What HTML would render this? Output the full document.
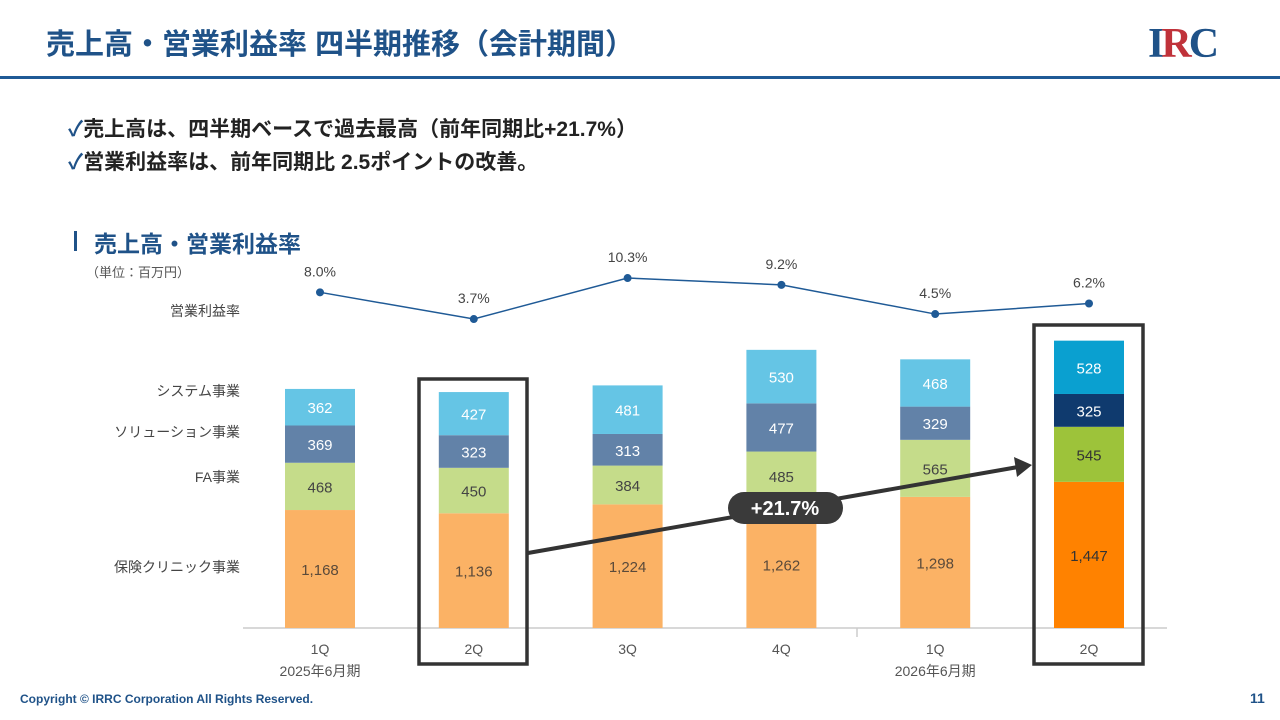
<!DOCTYPE html>
<html><head><meta charset="utf-8"><style>
body{margin:0;width:1280px;height:720px;background:#fff;overflow:hidden;font-family:"Liberation Sans","Noto Sans CJK JP",sans-serif;position:relative}
.abs{position:absolute}
</style></head><body>
<div class="abs" style="left:46px;top:21px;font-size:29px;font-weight:bold;color:#1f5288;white-space:nowrap">売上高・営業利益率 四半期推移（会計期間）</div>
<div class="abs" style="left:1148px;top:20px;font-family:'Liberation Serif',serif;font-weight:bold;font-size:42px;color:#1f5288;letter-spacing:-3px">I<span style="color:#c0323a">R</span>C</div>
<div class="abs" style="left:0;top:76px;width:1280px;height:3px;background:#1f5a96"></div>
<div class="abs" style="left:68px;top:113px;font-size:21px;font-weight:bold;color:#222;white-space:nowrap"><span style="color:#1f5288">✓</span>売上高は、四半期ベースで過去最高（前年同期比+21.7%）</div>
<div class="abs" style="left:68px;top:146px;font-size:21px;font-weight:bold;color:#222;white-space:nowrap"><span style="color:#1f5288">✓</span>営業利益率は、前年同期比 2.5ポイントの改善。</div>
<div class="abs" style="left:74px;top:231px;width:3px;height:20px;background:#1f5288"></div>
<div class="abs" style="left:94px;top:225px;font-size:23px;font-weight:bold;color:#1f5288;white-space:nowrap">売上高・営業利益率</div>
<div class="abs" style="left:86px;top:262px;font-size:13px;color:#555">（単位：百万円）</div>
<svg class="abs" style="left:0;top:0" width="1280" height="720" id="chart"></svg>
<div class="abs" style="left:20px;top:692px;font-size:12px;font-weight:bold;color:#1f5288">Copyright © IRRC Corporation All Rights Reserved.</div>
<div class="abs" style="left:1250px;top:690px;font-size:14px;font-weight:bold;color:#1f5288">11</div>
<script>
const categories=["1Q","2Q","3Q","4Q","1Q","2Q"];
const insurance=[1168,1136,1224,1262,1298,1447];
const fa=[468,450,384,485,565,545];
const solution=[369,323,313,477,329,325];
const system=[362,427,481,530,468,528];
const margin=[8.0,3.7,10.3,9.2,4.5,6.2];
const seriesNames=["保険クリニック事業","FA事業","ソリューション事業","システム事業"];
const NS="http://www.w3.org/2000/svg";
const svg=document.getElementById('chart');
function el(t,a,p){const e=document.createElementNS(NS,t);for(const k in a)e.setAttribute(k,a[k]);(p||svg).appendChild(e);return e;}
const base=628,k=0.101;
const xc=i=>320+i*153.8;
const yv=v=>base-v*k;
const ym=m=>342-m*6.21;
const colors=[["#fbb265","#c5dc8a","#6282a8","#65c5e5"],["#ff8200","#9dc33a","#0f3a6e","#0aa0d0"]];
const txtCol=["#5a4a3a","#444","#fff","#fff"];
const series=[insurance,fa,solution,system];
const keys=["insurance","fa","solution","system"];
let ax=el('line',{x1:243,y1:base,x2:1167,y2:base,stroke:'#ccc','stroke-width':1.5});

let tk=el('line',{x1:857,y1:base,x2:857,y2:637,stroke:'#ccc','stroke-width':1.5});

categories.forEach((c,i)=>{
  let cum=0;const last=i===5?1:0;
  series.forEach((s,j)=>{
    const v=s[i];const y0=yv(cum),y1=yv(cum+v);cum+=v;
    const r=el('rect',{x:xc(i)-35,y:y1,width:70,height:y0-y1,fill:colors[last][j]});
    
    const t=el('text',{x:xc(i),y:(y0+y1)/2+6,'text-anchor':'middle','font-size':15,fill:(last&&j<2)?'#333':txtCol[j]});
    t.textContent=v.toLocaleString('en-US');
    
  });
  const xl=el('text',{x:xc(i),y:654,'text-anchor':'middle','font-size':14,fill:'#555'});xl.textContent=c;
  
});
[["2025年6月期",0],["2026年6月期",4]].forEach(([t,i])=>{
  const e=el('text',{x:xc(i),y:676,'text-anchor':'middle','font-size':14,fill:'#555'});e.textContent=t;
  
});
const pl=el('polyline',{points:margin.map((m,i)=>xc(i)+','+ym(m)).join(' '),fill:'none',stroke:'#1f5a96','stroke-width':1.5});

margin.forEach((m,i)=>{
  const c=el('circle',{cx:xc(i),cy:ym(m),r:4,fill:'#1f5a96'});
  
  const t=el('text',{x:xc(i),y:ym(m)-16,'text-anchor':'middle','font-size':14,fill:'#444'});t.textContent=m.toFixed(1)+'%';
  
});
[["営業利益率",311],["システム事業",391],["ソリューション事業",432],["FA事業",477],["保険クリニック事業",567]].forEach(([t,y])=>{
  const e=el('text',{x:240,y:y+5,'text-anchor':'end','font-size':14,fill:'#444'});e.textContent=t;
  
});
[[419,379,108,285],[1034,325,109,339]].forEach(([x,y,w,h])=>{
  const r=el('rect',{x,y,width:w,height:h,fill:'none',stroke:'#333','stroke-width':3.5});
  
});
const ar=el('line',{x1:528,y1:553,x2:1018,y2:467,stroke:'#333','stroke-width':4});

const ah=el('polygon',{points:'1032,465 1014,457 1017,477',fill:'#333'});

const bg=el('rect',{x:728,y:492,width:115,height:32,rx:16,fill:'#3a3a3a'});

const bt=el('text',{x:785,y:515,'text-anchor':'middle','font-size':20,'font-weight':'bold',fill:'#fff'});bt.textContent='+21.7%';

</script>
</body></html>
